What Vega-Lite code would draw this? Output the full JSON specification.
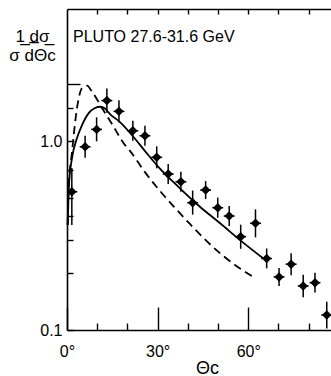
{
  "$schema": "https://vega.github.io/schema/vega-lite/v6.json",
  "width": 264,
  "height": 321,
  "autosize": {"type": "none"},
  "padding": {"left": 67, "top": 9, "right": 0, "bottom": 46},
  "background": "white",
  "config": {
    "view": {"stroke": null},
    "axis": {"grid": false, "domainColor": "black", "tickColor": "black", "labelColor": "black", "titleColor": "black", "labelFont": "Liberation Sans", "titleFont": "Liberation Sans", "domainWidth": 1.6, "tickWidth": 1.4, "titleFontWeight": "normal"}
  },
  "title": {"text": "PLUTO  27.6-31.6 GeV", "anchor": "start", "frame": "group", "offset": -50, "dx": 6, "baseline": "alphabetic", "fontSize": 16, "font": "Liberation Sans", "fontWeight": "normal", "color": "black"},
  "datasets": {
    "pts": [
      {"x": 1.6, "y": 0.539, "lo": 0.36, "hi": 0.72, "xlo": 0, "xhi": 3.4},
      {"x": 6.0, "y": 0.933, "lo": 0.816, "hi": 1.067, "xlo": 4.2, "xhi": 7.8},
      {"x": 9.8, "y": 1.153, "lo": 0.996, "hi": 1.335, "xlo": 8.0, "xhi": 11.6},
      {"x": 13.2, "y": 1.638, "lo": 1.414, "hi": 1.897, "xlo": 11.4, "xhi": 15.0},
      {"x": 17.2, "y": 1.436, "lo": 1.255, "hi": 1.643, "xlo": 15.4, "xhi": 19.0},
      {"x": 21.8, "y": 1.134, "lo": 1.004, "hi": 1.281, "xlo": 20.0, "xhi": 23.6},
      {"x": 25.8, "y": 1.067, "lo": 0.944, "hi": 1.206, "xlo": 24.0, "xhi": 27.6},
      {"x": 29.7, "y": 0.82, "lo": 0.717, "hi": 0.938, "xlo": 27.9, "xhi": 31.5},
      {"x": 33.5, "y": 0.669, "lo": 0.592, "hi": 0.756, "xlo": 31.7, "xhi": 35.3},
      {"x": 37.7, "y": 0.609, "lo": 0.539, "hi": 0.688, "xlo": 35.9, "xhi": 39.5},
      {"x": 41.6, "y": 0.472, "lo": 0.408, "hi": 0.547, "xlo": 39.8, "xhi": 43.4},
      {"x": 45.9, "y": 0.55, "lo": 0.493, "hi": 0.614, "xlo": 44.1, "xhi": 47.7},
      {"x": 49.9, "y": 0.444, "lo": 0.393, "hi": 0.502, "xlo": 48.1, "xhi": 51.7},
      {"x": 53.7, "y": 0.401, "lo": 0.355, "hi": 0.453, "xlo": 51.9, "xhi": 55.5},
      {"x": 57.5, "y": 0.312, "lo": 0.269, "hi": 0.361, "xlo": 55.7, "xhi": 59.3},
      {"x": 62.4, "y": 0.367, "lo": 0.309, "hi": 0.435, "xlo": 60.6, "xhi": 64.2},
      {"x": 66.1, "y": 0.239, "lo": 0.212, "hi": 0.27, "xlo": 64.3, "xhi": 67.9},
      {"x": 70.2, "y": 0.191, "lo": 0.171, "hi": 0.213, "xlo": 68.4, "xhi": 72.0},
      {"x": 74.2, "y": 0.223, "lo": 0.195, "hi": 0.255, "xlo": 72.4, "xhi": 76.0},
      {"x": 78.2, "y": 0.171, "lo": 0.149, "hi": 0.196, "xlo": 76.4, "xhi": 80.0},
      {"x": 82.1, "y": 0.178, "lo": 0.158, "hi": 0.201, "xlo": 80.3, "xhi": 83.9},
      {"x": 86.0, "y": 0.12, "lo": 0.102, "hi": 0.141, "xlo": 84.2, "xhi": 87.4}
    ],
    "solid": [
      {"x": 0.25, "y": 0.36}, {"x": 0.66, "y": 0.585}, {"x": 1.66, "y": 0.813}, {"x": 3.31, "y": 1.037},
      {"x": 4.97, "y": 1.215}, {"x": 7.19, "y": 1.406}, {"x": 9.27, "y": 1.495}, {"x": 10.93, "y": 1.519},
      {"x": 12.58, "y": 1.486}, {"x": 14.24, "y": 1.39}, {"x": 17.55, "y": 1.26}, {"x": 21.95, "y": 1.054},
      {"x": 25.83, "y": 0.885}, {"x": 29.7, "y": 0.746}, {"x": 37.4, "y": 0.562}, {"x": 44.0, "y": 0.449},
      {"x": 50.7, "y": 0.367}, {"x": 57.3, "y": 0.299}, {"x": 65.0, "y": 0.239}
    ],
    "dashed": [
      {"x": 0.2, "y": 0.36}, {"x": 0.5, "y": 0.55}, {"x": 1.66, "y": 0.875}, {"x": 3.31, "y": 1.495},
      {"x": 4.97, "y": 1.907}, {"x": 6.62, "y": 1.966}, {"x": 8.28, "y": 1.827}, {"x": 12.0, "y": 1.459},
      {"x": 14.9, "y": 1.23}, {"x": 19.2, "y": 0.952}, {"x": 20.9, "y": 0.885}, {"x": 25.8, "y": 0.685},
      {"x": 30.8, "y": 0.544}, {"x": 35.8, "y": 0.442}, {"x": 40.7, "y": 0.364}, {"x": 48.3, "y": 0.275},
      {"x": 55.6, "y": 0.221}, {"x": 62.3, "y": 0.188}
    ]
  },
  "layer": [
    {
      "data": {"name": "solid"},
      "mark": {"type": "line", "color": "black", "strokeWidth": 1.8, "interpolate": "monotone"},
      "encoding": {
        "x": {"field": "x", "type": "quantitative", "scale": {"domain": [0, 87.4], "nice": false, "zero": false},
          "axis": {"orient": "bottom", "values": [0, 30, 60], "tickSize": -23, "labelExpr": "datum.value + '°'", "labelFontSize": 16, "labelPadding": 36, "labelFlush": false, "title": "Θc", "titleFontSize": 18, "titleX": 140, "titleY": 43, "titleBaseline": "alphabetic", "titleAlign": "center"}},
        "y": {"field": "y", "type": "quantitative", "scale": {"type": "log", "domain": [0.1, 5], "nice": false},
          "axis": {"orient": "left", "values": [0.1, 1], "tickSize": -7, "labelExpr": "datum.value == 1 ? '1.0' : '0.1'", "labelFontSize": 16, "labelPadding": 12, "labelFlush": false, "title": ["1̲  d̲σ̲", "σ  dΘc"], "titleFontSize": 17, "titleAngle": 0, "titleAlign": "center", "titleBaseline": "alphabetic", "titleX": -35, "titleY": 32, "titleLineHeight": 19}}
      }
    },
    {
      "data": {"name": "dashed"},
      "mark": {"type": "line", "color": "black", "strokeWidth": 1.8, "strokeDash": [8, 5], "interpolate": "monotone"},
      "encoding": {
        "x": {"field": "x", "type": "quantitative",
          "axis": {"orient": "bottom", "values": [10, 20, 40, 50, 70, 80], "tickSize": -7, "labels": false, "domain": false, "title": null}},
        "y": {"field": "y", "type": "quantitative",
          "axis": {"orient": "left", "values": [0.2, 0.3, 0.4, 0.5, 0.7, 1.5], "tickSize": -6, "labels": false, "domain": false, "title": null}}
      }
    },
    {
      "data": {"name": "pts"},
      "mark": {"type": "rule", "color": "black", "strokeWidth": 1.5},
      "encoding": {
        "x": {"field": "x", "type": "quantitative",
          "axis": {"orient": "top", "values": [10, 20, 30, 40, 50, 60, 70, 80], "tickSize": -5, "labels": false, "domain": true, "title": null}},
        "y": {"field": "lo", "type": "quantitative",
          "axis": {"orient": "left", "values": [2], "tickSize": -13, "labels": false, "domain": false, "title": null}},
        "y2": {"field": "hi"}
      }
    },
    {
      "data": {"name": "pts"},
      "mark": {"type": "rule", "color": "black", "strokeWidth": 1.5},
      "encoding": {
        "x": {"field": "xlo", "type": "quantitative", "axis": null},
        "x2": {"field": "xhi"},
        "y": {"field": "y", "type": "quantitative", "axis": null}
      }
    },
    {
      "data": {"name": "pts"},
      "mark": {"type": "point", "shape": "diamond", "filled": true, "color": "black", "size": 90, "opacity": 1},
      "encoding": {
        "x": {"field": "x", "type": "quantitative", "axis": null},
        "y": {"field": "y", "type": "quantitative", "axis": null}
      }
    }
  ],
  "resolve": {"axis": {"x": "independent", "y": "independent"}}
}
